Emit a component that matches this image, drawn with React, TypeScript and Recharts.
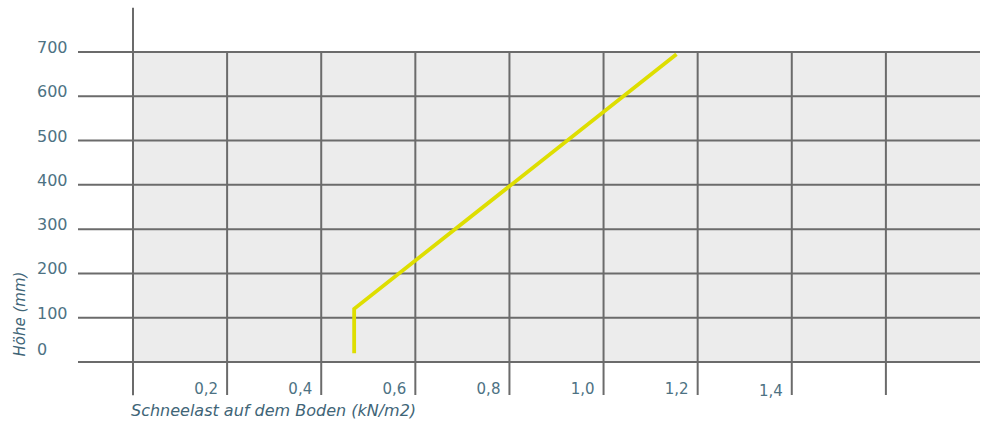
import React from "react";
import {
  LineChart,
  Line,
  XAxis,
  YAxis,
  CartesianGrid,
  ReferenceLine,
} from "recharts";

// Schneelast (kN/m2) vs. Höhe (mm)
const lastWerte = [0.47, 0.47, 1.155];
const hoeheWerte = [20, 120, 695];

const xTicks = [0, 0.2, 0.4, 0.6, 0.8, 1.0, 1.2, 1.4, 1.6];
const yTicks = [0, 100, 200, 300, 400, 500, 600, 700];
const xLabels: Record<string, string> = {
  "0.2": "0,2",
  "0.4": "0,4",
  "0.6": "0,6",
  "0.8": "0,8",
  "1": "1,0",
  "1.2": "1,2",
  "1.4": "1,4",
};

const data = lastWerte.map((x, i) => ({ x, y: hoeheWerte[i] }));

const GRID = "#6b6b6b";
const TEXT = "#3f6577";
const TICK_TEXT = "#4d7283";
const FONT = "'DejaVu Sans', sans-serif";

const XTick = (props: any) => {
  const { x, payload } = props;
  const label = xLabels[String(payload.value)];
  if (!label) return null;
  const dy = payload.value === 1.4 ? 2 : 0;
  return (
    <text
      x={x - 9}
      y={394 + dy}
      textAnchor="end"
      fill={TICK_TEXT}
      stroke="none"
      fontSize={15}
      fontWeight={400}
      fontFamily={FONT}
    >
      {label}
    </text>
  );
};

const YTick = (props: any) => {
  const { y, payload } = props;
  const off = payload.value === 0 ? 13 : 5;
  return (
    <text
      x={37}
      y={y - off + 6}
      textAnchor="start"
      fill={TICK_TEXT}
      stroke="none"
      fontSize={16}
      fontWeight={400}
      fontFamily={FONT}
    >
      {payload.value}
    </text>
  );
};

export default function App() {
  return (
    <div style={{ position: "absolute", left: 0, top: 0, width: 984, height: 423 }}>
      <LineChart
        width={984}
        height={423}
        data={data}
        margin={{ top: 52, right: 4, left: 0, bottom: 0 }}
      >
        <CartesianGrid
          stroke={GRID}
          strokeWidth={2}
          fill="#ececec"
          fillOpacity={1}
          horizontalValues={yTicks}
          verticalValues={xTicks}
        />
        <XAxis
          dataKey="x"
          type="number"
          domain={[0, 1.8]}
          ticks={xTicks}
          interval={0}
          height={61}
          axisLine={false}
          tickSize={33}
          tickLine={{ stroke: GRID, strokeWidth: 2 }}
          tick={<XTick />}
        />
        <YAxis
          type="number"
          domain={[0, 700]}
          ticks={yTicks}
          interval={0}
          width={133}
          axisLine={false}
          tickSize={55}
          tickLine={{ stroke: GRID, strokeWidth: 2 }}
          tick={<YTick />}
        />
        <ReferenceLine
          segment={[
            { x: 0, y: -75 },
            { x: 0, y: 800 },
          ]}
          stroke={GRID}
          strokeWidth={2}
          ifOverflow="visible"
        />
        <Line
          dataKey="y"
          type="linear"
          stroke="#dede00"
          strokeWidth={3.8}
          dot={false}
          isAnimationActive={false}
        />
        <text
          x={131}
          y={416}
          fill={TEXT}
          fontSize={16}
          fontStyle="italic"
          fontWeight={200}
          fontFamily={FONT}
        >
          Schneelast auf dem Boden (kN/m2)
        </text>
        <text
          x={25}
          y={314}
          transform="rotate(-90 25 314)"
          textAnchor="middle"
          fill={TEXT}
          fontSize={15}
          fontStyle="italic"
          fontWeight={200}
          fontFamily={FONT}
        >
          Höhe (mm)
        </text>
      </LineChart>
    </div>
  );
}
